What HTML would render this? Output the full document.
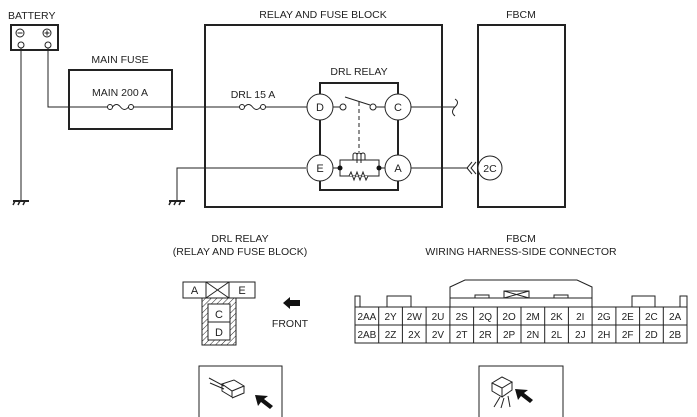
<!DOCTYPE html>
<html><head><meta charset="utf-8"><style>
html,body{margin:0;padding:0;background:#fff;}
svg{display:block;}
text{font-family:"Liberation Sans",Arial,sans-serif;fill:#222;}
</style></head><body>
<svg width="697" height="417" viewBox="0 0 697 417" xmlns="http://www.w3.org/2000/svg">
<g fill="none" stroke="#222" stroke-width="1">
<!-- Battery -->
<rect x="11" y="25" width="47" height="25" stroke-width="2"/>
<circle cx="20" cy="33" r="4"/><line x1="17.5" y1="33" x2="22.5" y2="33"/>
<circle cx="47" cy="33" r="4"/><line x1="44.5" y1="33" x2="49.5" y2="33"/><line x1="47" y1="30.5" x2="47" y2="35.5"/>
<circle cx="21" cy="45" r="3"/><circle cx="48" cy="45" r="3"/>
<line x1="21" y1="48" x2="21" y2="200"/>
<polyline points="48,48 48,107 69,107"/>
<!-- grounds -->
<line x1="13" y1="201" x2="29" y2="201" stroke-width="2"/>
<line x1="15" y1="201" x2="13" y2="205" stroke-width="1.5"/><line x1="20" y1="201" x2="18" y2="205" stroke-width="1.5"/><line x1="25" y1="201" x2="23" y2="205" stroke-width="1.5"/>
<polyline points="306,168 177,168 177,200"/>
<line x1="169" y1="201" x2="185" y2="201" stroke-width="2"/>
<line x1="171" y1="201" x2="169" y2="205" stroke-width="1.5"/><line x1="176" y1="201" x2="174" y2="205" stroke-width="1.5"/><line x1="181" y1="201" x2="179" y2="205" stroke-width="1.5"/>
<!-- Main fuse -->
<rect x="69" y="70" width="103" height="59" stroke-width="2"/>
<line x1="69" y1="107" x2="108" y2="107"/>
<circle cx="110" cy="107" r="2.5"/><path d="M112.5,107 q4,-5 8,0 q4,5 8,0"/><circle cx="131" cy="107" r="2.5"/>
<line x1="133" y1="107" x2="240" y2="107"/>
<!-- relay block -->
<rect x="205" y="25" width="237" height="182" stroke-width="2"/>
<circle cx="242" cy="107" r="2.5"/><path d="M244.5,107 q4,-5 8,0 q4,5 8,0"/><circle cx="263" cy="107" r="2.5"/>
<line x1="265.5" y1="107" x2="307" y2="107"/>
<!-- DRL relay box -->
<rect x="320" y="83" width="78" height="107" stroke-width="2"/>
<circle cx="320" cy="107" r="13" fill="#fff"/><circle cx="398" cy="107" r="13" fill="#fff"/>
<circle cx="320" cy="168" r="13" fill="#fff"/><circle cx="398" cy="168" r="13" fill="#fff"/>
<line x1="333" y1="107" x2="340" y2="107"/><circle cx="343" cy="107" r="3"/>
<circle cx="373" cy="107" r="3"/><line x1="376" y1="107" x2="385" y2="107"/>
<line x1="345" y1="97" x2="370" y2="105"/>
<line x1="359" y1="102" x2="359" y2="152" stroke-dasharray="4,3"/>
<line x1="333" y1="168" x2="385" y2="168"/>
<rect x="340" y="160" width="39" height="16" fill="#fff"/>
<path d="M353,160 v-5 a2,2 0 0 1 4,0 v5 M357,155 a2,2 0 0 1 4,0 v5 M361,155 a2,2 0 0 1 4,0 v5" />
<line x1="357" y1="153" x2="357" y2="163"/><line x1="361" y1="153" x2="361" y2="163"/>
<polyline points="349,176 351,172 354,180 357,172 360,180 363,172 366,180 368,176" fill="#fff"/>
<line x1="411" y1="107" x2="455" y2="107"/>
<path d="M455,99 q5,3 0,8 q-5,5 0,9"/>
<line x1="411" y1="168" x2="468" y2="168"/>
<path d="M472,162 l-5,6 l5,6 M476,162 l-5,6 l5,6"/>
<!-- FBCM -->
<rect x="478" y="25" width="87" height="182" stroke-width="2"/>
<circle cx="490" cy="168" r="12" fill="#fff"/>
<!-- relay connector -->
<rect x="183" y="282" width="72" height="16"/>
<line x1="206" y1="282" x2="206" y2="298"/><line x1="229" y1="282" x2="229" y2="298"/>
<line x1="206" y1="282" x2="229" y2="298"/><line x1="229" y1="282" x2="206" y2="298"/>
<rect x="202" y="298" width="34" height="47"/>
<rect x="208" y="304" width="22" height="36" fill="#fff"/>
<line x1="208" y1="322" x2="230" y2="322"/>
</g>
<circle cx="340" cy="168" r="2.5" fill="#111"/><circle cx="379" cy="168" r="2.5" fill="#111"/>
<defs><pattern id="h" width="4" height="4" patternUnits="userSpaceOnUse" patternTransform="rotate(45)"><line x1="0" y1="0" x2="0" y2="4" stroke="#222" stroke-width="1"/></pattern></defs>
<path d="M202,298 h34 v47 h-34 z M208,304 v36 h22 v-36 z" fill="url(#h)" fill-rule="evenodd"/>
<path d="M283,303 l7,-6 v3 h10 v6 h-10 v3 z" fill="#111"/>
<!-- FBCM connector -->
<g fill="none" stroke="#222" stroke-width="1">
<path d="M450,307 V287 L465,280 H577 L592,287 V307"/>
<line x1="450" y1="298" x2="592" y2="298"/>
<path d="M475,298 v-3 h14 v3 M554,298 v-3 h14 v3"/>
<path d="M504,291 h25 v7 h-25 z M504,291 L529,298 M529,291 L504,298"/>
<path d="M355,307 v-11 h5 v11 M387,307 v-11 h24 v11 M632,307 v-11 h23 v11 M680,307 v-11 h7 v11"/>
<rect x="355" y="307" width="332" height="36"/>
<line x1="355" y1="325" x2="687" y2="325"/>
<rect x="199" y="366" width="83" height="60"/>
<rect x="479" y="366" width="84" height="60"/>
</g>
<g stroke="#222" stroke-width="1">
<line x1="378.7" y1="307" x2="378.7" y2="343"/><line x1="402.4" y1="307" x2="402.4" y2="343"/><line x1="426.1" y1="307" x2="426.1" y2="343"/><line x1="449.9" y1="307" x2="449.9" y2="343"/><line x1="473.6" y1="307" x2="473.6" y2="343"/><line x1="497.3" y1="307" x2="497.3" y2="343"/><line x1="521" y1="307" x2="521" y2="343"/><line x1="544.7" y1="307" x2="544.7" y2="343"/><line x1="568.4" y1="307" x2="568.4" y2="343"/><line x1="592.1" y1="307" x2="592.1" y2="343"/><line x1="615.9" y1="307" x2="615.9" y2="343"/><line x1="639.6" y1="307" x2="639.6" y2="343"/><line x1="663.3" y1="307" x2="663.3" y2="343"/>
</g>
<!-- icons -->
<g fill="none" stroke="#222" stroke-width="1">
<path d="M209,378 l15,8 M210,383 l14,6"/>
<path d="M222,384 l12,-4 l10,6 l-12,5 z M222,384 v7 l10,6 v-6 M244,386 v7 l-12,5"/>
<path d="M492,383 l10,-6 l10,5 l-10,6 z M492,383 v8 l10,6 v-9 M512,382 v8 l-10,7"/>
<path d="M500,397 l-6,10 M504,398 l-3,10 M508,396 l2,11"/>
</g>
<path d="M255,395 l13,1 l-4,3 l9,7 l-3,3 l-9,-7 l-3,4 z" fill="#111"/>
<path d="M515,389 l13,1 l-4,3 l9,7 l-3,3 l-9,-7 l-3,4 z" fill="#111"/>
<!-- text -->
<g font-size="10.5">
<text x="8" y="19">BATTERY</text>
<text x="120" y="63" text-anchor="middle">MAIN FUSE</text>
<text x="120" y="96" text-anchor="middle">MAIN 200 A</text>
<text x="323" y="18" text-anchor="middle">RELAY AND FUSE BLOCK</text>
<text x="521" y="18" text-anchor="middle">FBCM</text>
<text x="359" y="75" text-anchor="middle">DRL RELAY</text>
<text x="253" y="98" text-anchor="middle">DRL 15 A</text>
<text x="240" y="242" text-anchor="middle">DRL RELAY</text>
<text x="240" y="255" text-anchor="middle">(RELAY AND FUSE BLOCK)</text>
<text x="521" y="242" text-anchor="middle">FBCM</text>
<text x="521" y="255" text-anchor="middle">WIRING HARNESS-SIDE CONNECTOR</text>
<text x="290" y="327" text-anchor="middle">FRONT</text>
</g>
<g font-size="11" text-anchor="middle">
<text x="320" y="111">D</text><text x="398" y="111">C</text>
<text x="320" y="172">E</text><text x="398" y="172">A</text>
<text x="490" y="172" font-size="10.5">2C</text>
<text x="194.5" y="294">A</text><text x="242" y="294">E</text>
<text x="219" y="318">C</text><text x="219" y="336">D</text>
</g>
<g font-size="10" text-anchor="middle">
<text x="366.9" y="320">2AA</text><text x="390.6" y="320">2Y</text><text x="414.3" y="320">2W</text><text x="438" y="320">2U</text><text x="461.7" y="320">2S</text><text x="485.4" y="320">2Q</text><text x="509.1" y="320">2O</text><text x="532.9" y="320">2M</text><text x="556.6" y="320">2K</text><text x="580.3" y="320">2I</text><text x="604" y="320">2G</text><text x="627.7" y="320">2E</text><text x="651.4" y="320">2C</text><text x="675.1" y="320">2A</text>
<text x="366.9" y="338">2AB</text><text x="390.6" y="338">2Z</text><text x="414.3" y="338">2X</text><text x="438" y="338">2V</text><text x="461.7" y="338">2T</text><text x="485.4" y="338">2R</text><text x="509.1" y="338">2P</text><text x="532.9" y="338">2N</text><text x="556.6" y="338">2L</text><text x="580.3" y="338">2J</text><text x="604" y="338">2H</text><text x="627.7" y="338">2F</text><text x="651.4" y="338">2D</text><text x="675.1" y="338">2B</text>
</g>
</svg>
</body></html>
